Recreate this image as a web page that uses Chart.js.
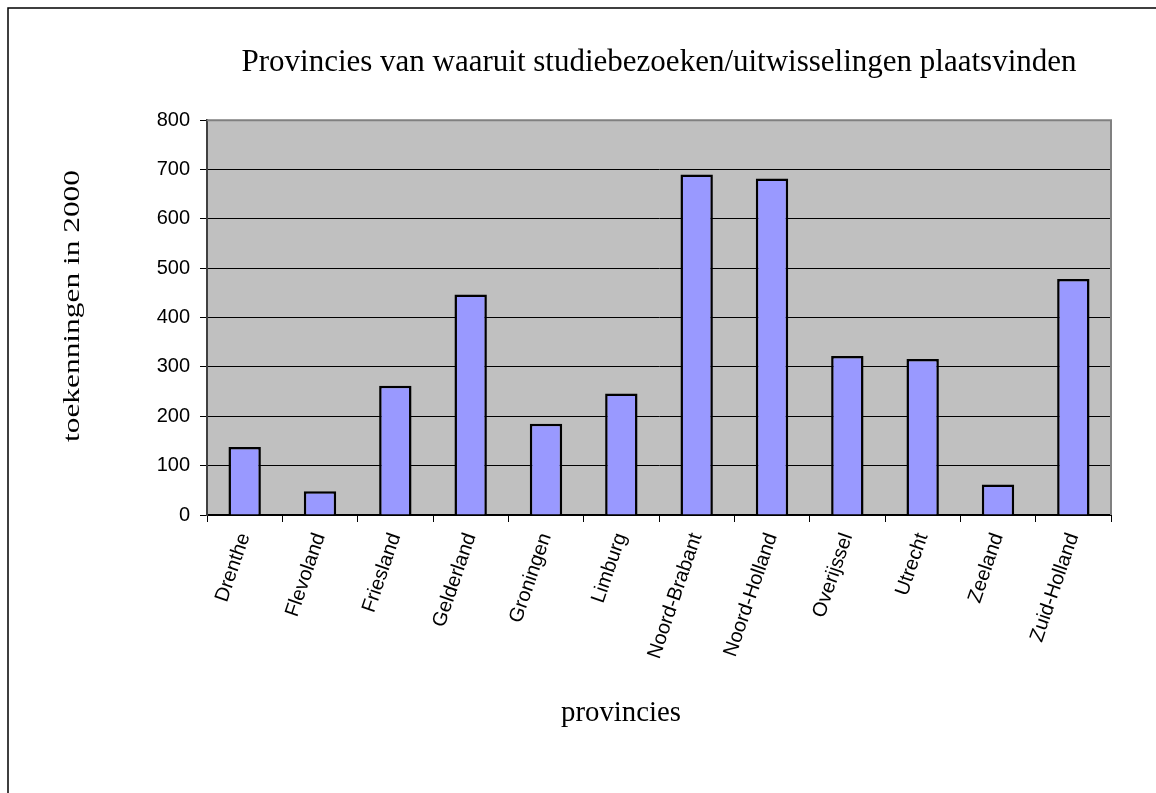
<!DOCTYPE html>
<html>
<head>
<meta charset="utf-8">
<script src="https://cdn.jsdelivr.net/npm/chart.js@4/dist/chart.umd.min.js"></script>
<style>
  html, body { margin: 0; padding: 0; background: #fff; }
  canvas { display: block; }
</style>
</head>
<body>
<canvas id="chart" width="1156" height="793"></canvas>
<script>
const provinces = ['Drenthe', 'Flevoland', 'Friesland', 'Gelderland', 'Groningen', 'Limburg',
  'Noord-Brabant', 'Noord-Holland', 'Overijssel', 'Utrecht', 'Zeeland', 'Zuid-Holland'];
const awards = [138, 48, 262, 447, 185, 246, 690, 682, 322, 316, 62, 478];
const yMin = 0;
const yMax = 800;
const yStep = 100;

const titleText = 'Provincies van waaruit studiebezoeken/uitwisselingen plaatsvinden';
const yTitleText = 'toekenningen in 2000';
const xTitleText = 'provincies';

const serif = '"Liberation Serif", "Times New Roman", serif';
const sans = '"Liberation Sans", Arial, sans-serif';

// the old export stretches the axis titles a little, so draw them here
function stretchedText(ctx, text, x, y, size, length, angle) {
  ctx.save();
  ctx.font = size + 'px ' + serif;
  ctx.fillStyle = '#000';
  ctx.textAlign = 'center';
  ctx.textBaseline = 'middle';
  ctx.translate(x, y);
  ctx.rotate(angle);
  ctx.scale(length / ctx.measureText(text).width, 1);
  ctx.fillText(text, 0, 0);
  ctx.restore();
}

// grey plot background, frame round the page, axis titles
const excelLook = {
  id: 'excelLook',
  beforeDraw(chart) {
    const { ctx, chartArea: a } = chart;
    ctx.save();
    ctx.fillStyle = '#c0c0c0';
    ctx.fillRect(a.left, a.top, a.right - a.left, a.bottom - a.top);
    ctx.strokeStyle = '#000';
    ctx.lineWidth = 1.5;
    ctx.strokeRect(8, 8, 1300, 1000);
    ctx.restore();
  },
  afterDraw(chart) {
    const { ctx, chartArea: a } = chart;
    ctx.save();
    ctx.strokeStyle = '#808080';
    ctx.lineWidth = 2;
    ctx.beginPath();
    ctx.moveTo(a.left, a.top);
    ctx.lineTo(a.right, a.top);
    ctx.lineTo(a.right, a.bottom);
    ctx.stroke();
    ctx.restore();
    stretchedText(ctx, yTitleText, 73, 306, 23, 272, -Math.PI / 2);
    stretchedText(ctx, xTitleText, 621, 713, 29, 120, 0);
  },
};

new Chart(document.getElementById('chart'), {
  type: 'bar',
  data: {
    labels: provinces,
    datasets: [{
      data: awards,
      backgroundColor: '#9999ff',
      borderColor: '#000',
      borderWidth: 2.5,
      categoryPercentage: 1,
      barPercentage: 0.43,
    }],
  },
  options: {
    responsive: false,
    animation: false,
    layout: { padding: { left: 0, right: 45, top: 0, bottom: 0 } },
    plugins: {
      legend: { display: false },
      tooltip: { enabled: false },
      title: {
        display: true,
        text: titleText,
        fullSize: false,
        color: '#000',
        font: { family: serif, size: 31, weight: 'normal', lineHeight: 1.2 },
        padding: { top: 44, bottom: 39 },
      },
    },
    scales: {
      x: {
        afterFit(scale) { scale.height = 278; },
        grid: {
          drawOnChartArea: false,
          drawTicks: true,
          tickLength: 7,
          color: '#000',
        },
        border: { color: '#000', width: 2 },
        ticks: {
          color: '#000',
          font: { family: sans, size: 20 },
          minRotation: 71,
          maxRotation: 71,
          padding: 8,
          autoSkip: false,
        },
      },
      y: {
        min: yMin,
        max: yMax,
        afterFit(scale) { scale.width = 207; },
        grid: { color: '#000', tickLength: 7 },
        border: { color: '#404040', width: 2 },
        ticks: {
          stepSize: yStep,
          color: '#000',
          font: { family: sans, size: 20 },
          padding: 10,
        },
      },
    },
  },
  plugins: [excelLook],
});
</script>
</body>
</html>
